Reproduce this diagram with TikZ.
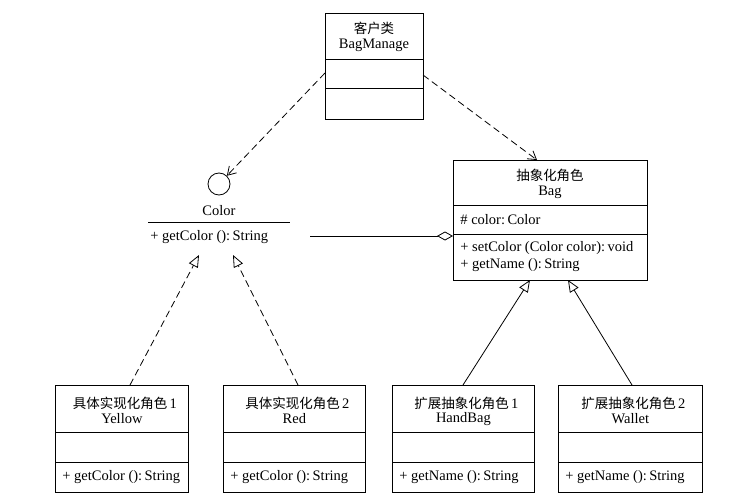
\documentclass[tikz,border=0pt]{standalone}
\usepackage{fontspec}
\setmainfont{Liberation Serif}
\newfontfamily\cjk{Noto Sans CJK SC}[Scale=0.93]
\usetikzlibrary{arrows.meta}
\begin{document}
\begin{tikzpicture}[x=1pt,y=-1pt, line width=0.8pt,
  box/.style={draw, rectangle, anchor=north west, inner sep=0},
  txt/.style={font=\fontsize{14.5}{16}\selectfont, inner sep=0},
  ltxt/.style={txt, anchor=west},
  dep/.style={dash pattern=on 7pt off 4pt, -{Straight Barb[length=8pt,width=10pt]}},
  real/.style={dash pattern=on 7pt off 4pt, -{Triangle[open,length=12pt,width=10pt]}},
  gen/.style={-{Triangle[open,length=12pt,width=10pt]}},
  aggr/.style={-{Diamond[open,length=16pt,width=9pt]}}
]
\useasboundingbox (0,0) rectangle (731,503);

% BagManage
\node[box, minimum width=98pt, minimum height=106pt] (bm) at (325,13) {};
\draw (bm.west |- 0,59) -- (bm.east |- 0,59);
\draw (bm.west |- 0,88) -- (bm.east |- 0,88);
\node[txt] (bmt1) at (374,28) {\cjk 客户类};
\node[txt] (bmt2) at (374,45) {BagManage};

% Color interface
\node[draw, circle, minimum size=22pt, inner sep=0] (ci) at (219,184) {};
\node[txt] (cit) at (219,211) {Color};
\coordinate (clL) at (148,222);
\coordinate (clR) at (290,222);
\draw (clL) -- (clR);
\node[ltxt] (cim) at (150,237) {+ getColor ():\,String};

% Bag
\node[box, minimum width=194pt, minimum height=120pt] (bag) at (453,160) {};
\draw (bag.west |- 0,205) -- (bag.east |- 0,205);
\draw (bag.west |- 0,234) -- (bag.east |- 0,234);
\node[txt] (bagt1) at (550,175) {\cjk 抽象化角色};
\node[txt] (bagt2) at (550,192) {Bag};
\node[ltxt] (baga) at (460,220) {\# color:\,Color};
\node[ltxt] (bagm1) at (460,248) {+ setColor (Color color):\,void};
\node[ltxt] (bagm2) at (460,265) {+ getName ():\,String};

% bottom classes
\node[box, minimum width=133pt, minimum height=107pt] (ye) at (55,385) {};
\node[box, minimum width=142pt, minimum height=107pt] (re) at (223,385) {};
\node[box, minimum width=142pt, minimum height=107pt] (hb) at (392,385) {};
\node[box, minimum width=144pt, minimum height=107pt] (wa) at (558,385) {};
\foreach \n in {ye,re,hb,wa}{
  \draw (\n.west |- 0,432) -- (\n.east |- 0,432);
  \draw (\n.west |- 0,462) -- (\n.east |- 0,462);
}
\node[txt] (yet1) at ([xshift=3pt]ye.north |- 0,403) {{\cjk 具体实现化角色}\,1};
\node[txt] (yet2) at (ye.north |- 0,419) {Yellow};
\node[ltxt] (yem) at ([xshift=7pt]ye.west |- 0,477) {+ getColor ():\,String};

\node[txt] (ret1) at ([xshift=3pt]re.north |- 0,403) {{\cjk 具体实现化角色}\,2};
\node[txt] (ret2) at (re.north |- 0,419) {Red};
\node[ltxt] (rem) at ([xshift=7pt]re.west |- 0,477) {+ getColor ():\,String};

\node[txt] (hbt1) at ([xshift=3pt]hb.north |- 0,403) {{\cjk 扩展抽象化角色}\,1};
\node[txt] (hbt2) at (hb.north |- 0,419) {HandBag};
\node[ltxt] (hbm) at ([xshift=7pt]hb.west |- 0,477) {+ getName ():\,String};

\node[txt] (wat1) at ([xshift=3pt]wa.north |- 0,403) {{\cjk 扩展抽象化角色}\,2};
\node[txt] (wat2) at (wa.north |- 0,419) {Wallet};
\node[ltxt] (wam) at ([xshift=7pt]wa.west |- 0,477) {+ getName ():\,String};

% connectors
\coordinate (bmL) at (325,73);
\coordinate (bmR) at (423,75);
\coordinate (bagT) at (537,160);
\draw[dep] (bmL) -- (ci);
\draw[dep] (bmR) -- (bagT);

\coordinate (colA) at (310,236);
\draw[aggr] (colA) -- (bag.west |- colA);

\coordinate (yeT) at (130,385);
\coordinate (reT) at (298,385);
\coordinate (ifL) at (199,255);
\coordinate (ifR) at (233,255);
\draw[real] (yeT) -- (ifL);
\draw[real] (reT) -- (ifR);

\coordinate (hbT) at (463,385);
\coordinate (waT) at (632,385);
\coordinate (bagBL) at (530,280);
\coordinate (bagBR) at (568,280);
\draw[gen] (hbT) -- (bagBL);
\draw[gen] (waT) -- (bagBR);
\end{tikzpicture}
\end{document}
